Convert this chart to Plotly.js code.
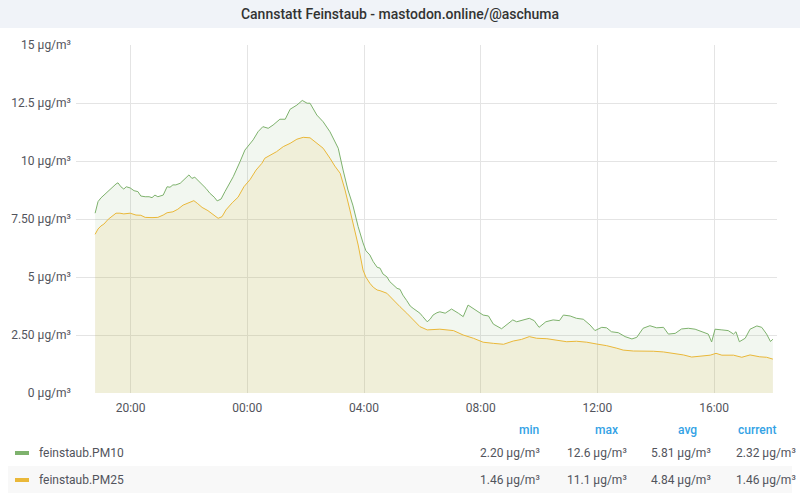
<!DOCTYPE html>
<html>
<head>
<meta charset="utf-8">
<script src="https://cdn.plot.ly/plotly-3.0.1.min.js"></script>
<style>html,body{margin:0;padding:0;background:#fff;}#chart{width:800px;height:500px;}</style>
</head>
<body>
<div id="chart"></div>
<script>
// ---- data ----
const pm10Time = [
"2024-01-01 18:47","2024-01-01 18:53","2024-01-01 18:59","2024-01-01 19:05","2024-01-01 19:14","2024-01-01 19:22","2024-01-01 19:30","2024-01-01 19:34","2024-01-01 19:40","2024-01-01 19:46","2024-01-01 19:51","2024-01-01 19:59",
"2024-01-01 20:07","2024-01-01 20:15","2024-01-01 20:21","2024-01-01 20:30","2024-01-01 20:38","2024-01-01 20:44","2024-01-01 20:50","2024-01-01 20:56","2024-01-01 21:07","2024-01-01 21:15","2024-01-01 21:21","2024-01-01 21:27",
"2024-01-01 21:33","2024-01-01 21:42","2024-01-01 21:48","2024-01-01 21:56","2024-01-01 22:00","2024-01-01 22:06","2024-01-01 22:12","2024-01-01 22:19","2024-01-01 22:27","2024-01-01 22:35","2024-01-01 22:43","2024-01-01 22:52",
"2024-01-01 22:58","2024-01-01 23:06","2024-01-01 23:14","2024-01-01 23:31","2024-01-01 23:45","2024-01-01 23:55","2024-01-02 00:12","2024-01-02 00:22","2024-01-02 00:32","2024-01-02 00:43","2024-01-02 00:53","2024-01-02 01:07",
"2024-01-02 01:18","2024-01-02 01:28","2024-01-02 01:42","2024-01-02 01:53","2024-01-02 02:03","2024-01-02 02:09","2024-01-02 02:23","2024-01-02 02:36","2024-01-02 02:50","2024-01-02 03:07","2024-01-02 03:17","2024-01-02 03:27",
"2024-01-02 03:37","2024-01-02 03:48","2024-01-02 03:58","2024-01-02 04:04","2024-01-02 04:12","2024-01-02 04:19","2024-01-02 04:27","2024-01-02 04:33","2024-01-02 04:39","2024-01-02 04:47","2024-01-02 04:53","2024-01-02 05:00",
"2024-01-02 05:08","2024-01-02 05:14","2024-01-02 05:20","2024-01-02 05:28","2024-01-02 05:35","2024-01-02 05:41","2024-01-02 05:49","2024-01-02 05:55","2024-01-02 06:01","2024-01-02 06:10","2024-01-02 06:16","2024-01-02 06:22",
"2024-01-02 06:30","2024-01-02 06:36","2024-01-02 06:47","2024-01-02 07:00","2024-01-02 07:14","2024-01-02 07:24","2024-01-02 07:34","2024-01-02 07:48","2024-01-02 08:05","2024-01-02 08:16","2024-01-02 08:26","2024-01-02 08:43",
"2024-01-02 08:53","2024-01-02 09:06","2024-01-02 09:14","2024-01-02 09:28","2024-01-02 09:40","2024-01-02 09:50","2024-01-02 10:00","2024-01-02 10:14","2024-01-02 10:29","2024-01-02 10:42","2024-01-02 10:50","2024-01-02 11:04",
"2024-01-02 11:17","2024-01-02 11:31","2024-01-02 11:45","2024-01-02 11:55","2024-01-02 12:09","2024-01-02 12:19","2024-01-02 12:29","2024-01-02 12:43","2024-01-02 12:57","2024-01-02 13:11","2024-01-02 13:21","2024-01-02 13:34",
"2024-01-02 13:48","2024-01-02 14:02","2024-01-02 14:16","2024-01-02 14:26","2024-01-02 14:40","2024-01-02 14:53","2024-01-02 15:07","2024-01-02 15:21","2024-01-02 15:35","2024-01-02 15:48","2024-01-02 15:55","2024-01-02 16:02",
"2024-01-02 16:16","2024-01-02 16:29","2024-01-02 16:40","2024-01-02 16:45","2024-01-02 16:52","2024-01-02 17:04","2024-01-02 17:14","2024-01-02 17:28","2024-01-02 17:38","2024-01-02 17:48","2024-01-02 17:56","2024-01-02 18:01"];
const pm10 = [
7.75,8.25,8.41,8.53,8.68,8.84,9.01,9.06,8.89,8.79,8.89,8.84,
8.72,8.68,8.49,8.46,8.46,8.42,8.53,8.46,8.53,8.89,8.87,8.97,
8.97,9.04,9.18,9.32,9.40,9.25,9.30,9.15,9.01,8.82,8.61,8.44,
8.28,8.36,8.68,9.32,9.97,10.47,10.91,11.26,11.48,11.41,11.55,11.80,
11.80,12.23,12.41,12.61,12.49,12.49,11.98,11.69,11.26,10.55,9.61,8.75,
8.10,7.17,6.47,6.13,5.95,5.66,5.42,5.38,5.13,5.01,4.80,4.66,
4.51,4.47,4.22,3.98,3.75,3.65,3.53,3.44,3.29,3.07,3.18,3.36,
3.46,3.50,3.44,3.62,3.44,3.29,3.79,3.58,3.36,3.32,2.97,2.77,
2.93,3.15,3.07,3.15,3.22,3.12,2.83,3.07,3.15,3.12,3.36,3.32,
3.22,3.18,2.93,2.69,2.83,2.81,2.64,2.60,2.43,2.33,2.40,2.79,
2.90,2.81,2.83,2.54,2.57,2.76,2.79,2.75,2.64,2.54,2.20,2.75,
2.72,2.69,2.54,2.64,2.21,2.36,2.75,2.89,2.83,2.54,2.22,2.32];

const pm25Time = [
"2024-01-01 18:47","2024-01-01 18:53","2024-01-01 18:59","2024-01-01 19:05","2024-01-01 19:14","2024-01-01 19:22","2024-01-01 19:30","2024-01-01 19:38","2024-01-01 19:46","2024-01-01 19:59","2024-01-01 20:11","2024-01-01 20:21",
"2024-01-01 20:30","2024-01-01 20:44","2024-01-01 20:56","2024-01-01 21:07","2024-01-01 21:15","2024-01-01 21:27","2024-01-01 21:37","2024-01-01 21:48","2024-01-01 22:00","2024-01-01 22:10","2024-01-01 22:17","2024-01-01 22:27",
"2024-01-01 22:39","2024-01-01 22:52","2024-01-01 23:00","2024-01-01 23:08","2024-01-01 23:16","2024-01-01 23:29","2024-01-01 23:41","2024-01-01 23:53","2024-01-02 00:06","2024-01-02 00:18","2024-01-02 00:30","2024-01-02 00:36",
"2024-01-02 00:47","2024-01-02 01:00","2024-01-02 01:14","2024-01-02 01:28","2024-01-02 01:42","2024-01-02 01:55","2024-01-02 02:09","2024-01-02 02:23","2024-01-02 02:36","2024-01-02 02:50","2024-01-02 03:00","2024-01-02 03:11",
"2024-01-02 03:21","2024-01-02 03:31","2024-01-02 03:41","2024-01-02 03:48","2024-01-02 03:58","2024-01-02 04:04","2024-01-02 04:12","2024-01-02 04:19","2024-01-02 04:27","2024-01-02 04:33","2024-01-02 04:47","2024-01-02 05:00",
"2024-01-02 05:14","2024-01-02 05:28","2024-01-02 05:41","2024-01-02 05:55","2024-01-02 06:10","2024-01-02 06:22","2024-01-02 06:36","2024-01-02 07:04","2024-01-02 07:24","2024-01-02 07:45","2024-01-02 08:05","2024-01-02 08:26",
"2024-01-02 08:47","2024-01-02 09:07","2024-01-02 09:24","2024-01-02 09:40","2024-01-02 09:55","2024-01-02 10:16","2024-01-02 10:36","2024-01-02 10:57","2024-01-02 11:17","2024-01-02 11:38","2024-01-02 11:59","2024-01-02 12:19",
"2024-01-02 12:40","2024-01-02 12:53","2024-01-02 13:14","2024-01-02 13:34","2024-01-02 13:55","2024-01-02 14:16","2024-01-02 14:36","2024-01-02 14:57","2024-01-02 15:14","2024-01-02 15:31","2024-01-02 15:52","2024-01-02 16:04",
"2024-01-02 16:16","2024-01-02 16:40","2024-01-02 16:57","2024-01-02 17:14","2024-01-02 17:34","2024-01-02 17:48","2024-01-02 18:01"];
const pm25 = [
6.84,7.07,7.20,7.28,7.49,7.63,7.75,7.75,7.72,7.75,7.67,7.66,
7.57,7.56,7.57,7.67,7.77,7.81,7.92,8.10,8.22,8.29,8.18,8.00,
7.86,7.67,7.53,7.60,7.89,8.20,8.44,8.89,9.21,9.61,9.90,10.12,
10.26,10.40,10.62,10.76,10.94,11.02,11.00,10.76,10.55,10.12,9.78,9.47,
8.75,7.89,7.03,6.38,5.30,4.99,4.73,4.56,4.44,4.41,4.30,4.01,
3.72,3.44,3.15,2.86,2.72,2.72,2.75,2.69,2.50,2.36,2.19,2.14,
2.10,2.24,2.31,2.43,2.36,2.34,2.28,2.21,2.23,2.19,2.11,2.04,
1.93,1.85,1.81,1.82,1.80,1.77,1.71,1.64,1.55,1.59,1.63,1.71,
1.63,1.63,1.54,1.64,1.56,1.54,1.46];

const seriesNames = ["feinstaub.PM10", "feinstaub.PM25"];
const statHeaders = ["min", "max", "avg", "current"];
const statsPM10 = ["2.20 µg/m³", "12.6 µg/m³", "5.81 µg/m³", "2.32 µg/m³"];
const statsPM25 = ["1.46 µg/m³", "11.1 µg/m³", "4.84 µg/m³", "1.46 µg/m³"];
const yTickVals = [0, 2.5, 5, 7.5, 10, 12.5, 15];
const yTickText = ["0 µg/m³", "2.50 µg/m³", "5 µg/m³", "7.50 µg/m³", "10 µg/m³", "12.5 µg/m³", "15 µg/m³"];

// ---- layout helpers (pixel -> paper) ----
const L = 76, R = 23, T = 45, B = 107, W = 800, H = 500;
const pw = W - L - R, ph = H - T - B;
const px = x => (x - L) / pw;
const py = y => (H - B - y) / ph;

const green = "#7EB26D", yellow = "#EAB839";
const textCol = "#52545c";

const traces = [
  {x: pm10Time, y: pm10, name: seriesNames[0], type: "scatter", mode: "lines",
   line: {color: green, width: 1}, fill: "tozeroy", fillcolor: "rgba(126,178,109,0.10)"},
  {x: pm25Time, y: pm25, name: seriesNames[1], type: "scatter", mode: "lines",
   line: {color: yellow, width: 1}, fill: "tozeroy", fillcolor: "rgba(234,184,57,0.12)"}
];

const annotations = [];
const shapes = [];
// title bar
shapes.push({type: "rect", xref: "paper", yref: "paper", x0: px(0), x1: px(800), y0: py(28), y1: py(0),
  fillcolor: "#f0f3f8", line: {width: 0}, layer: "below"});
// second legend row background
shapes.push({type: "rect", xref: "paper", yref: "paper", x0: px(8), x1: px(792), y0: py(493), y1: py(466),
  fillcolor: "#f8f8f8", line: {width: 0}, layer: "below"});
// legend swatches
[[green, 453], [yellow, 480]].forEach(([c, y]) => {
  shapes.push({type: "rect", xref: "paper", yref: "paper", x0: px(15), x1: px(29), y0: py(y + 2), y1: py(y - 2),
    fillcolor: c, line: {width: 0}});
});
// legend names
seriesNames.forEach((n, i) => {
  annotations.push({text: n, xref: "paper", yref: "paper", x: px(37), y: py(453 + i * 27),
    xanchor: "left", yanchor: "middle", showarrow: false, font: {family: "Roboto", size: 12, color: textCol}});
});
// stat columns
const headRight = [541, 620, 699, 778];
const valRight = [542, 629, 713, 798];
statHeaders.forEach((h, i) => {
  annotations.push({text: h, xref: "paper", yref: "paper", x: px(headRight[i]), y: py(430),
    xanchor: "right", yanchor: "middle", showarrow: false,
    font: {family: "Roboto", size: 12, color: "#33a2e5", weight: 500}});
  annotations.push({text: statsPM10[i], xref: "paper", yref: "paper", x: px(valRight[i]), y: py(453),
    xanchor: "right", yanchor: "middle", showarrow: false, font: {family: "Roboto", size: 12, color: textCol}});
  annotations.push({text: statsPM25[i], xref: "paper", yref: "paper", x: px(valRight[i]), y: py(480),
    xanchor: "right", yanchor: "middle", showarrow: false, font: {family: "Roboto", size: 12, color: textCol}});
});

const layout = {
  width: W, height: H,
  margin: {l: L, r: R, t: T, b: B, pad: 0},
  paper_bgcolor: "#ffffff", plot_bgcolor: "#ffffff",
  showlegend: false,
  font: {family: "Roboto", size: 12, color: textCol},
  title: {text: "Cannstatt Feinstaub - mastodon.online/@aschuma", x: 0.5, xref: "container", xanchor: "center",
    y: 1 - 14 / H, yref: "container", yanchor: "middle",
    font: {family: "Roboto", size: 14, color: "#333333", weight: 500}},
  xaxis: {type: "date", range: ["2024-01-01 18:07:40", "2024-01-02 18:09:25"],
    tick0: "2024-01-01 00:00", dtick: 4 * 3600 * 1000, tickformat: "%H:%M",
    showgrid: true, gridcolor: "#e4e4e4", gridwidth: 1, zeroline: false, showline: false, ticks: "",
    tickfont: {family: "Roboto", size: 12, color: textCol}, ticklabelstandoff: 6, fixedrange: true},
  yaxis: {range: [0, 15], tickvals: yTickVals, ticktext: yTickText,
    showgrid: true, gridcolor: "#e4e4e4", gridwidth: 1, zeroline: false, showline: false, ticks: "",
    tickfont: {family: "Roboto", size: 12, color: textCol}, ticklabelstandoff: 4, fixedrange: true},
  shapes: shapes,
  annotations: annotations
};

Plotly.newPlot("chart", traces, layout, {staticPlot: true, displayModeBar: false});
</script>
</body>
</html>
